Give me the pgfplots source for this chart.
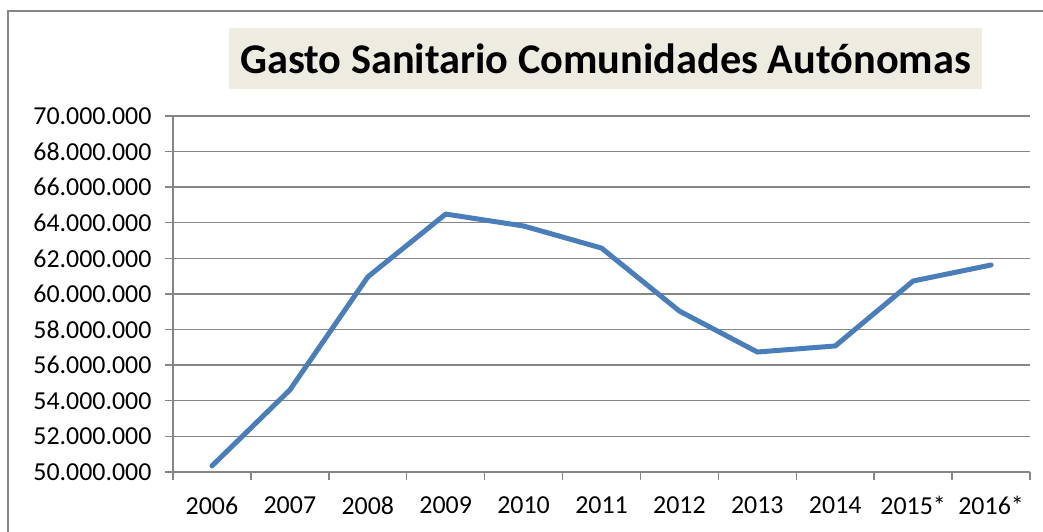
\documentclass[border=0pt]{standalone}
\usepackage{pgfplots}
\pgfplotsset{compat=1.18}
\usepackage{fontspec}
\setmainfont{Carlito}
\definecolor{axgray}{HTML}{868686}
\definecolor{linec}{HTML}{4A7EBB}
\definecolor{titlebg}{HTML}{EEECE1}
\begin{document}
\begin{tikzpicture}[x=1bp,y=1bp]
\useasboundingbox (0,0) rectangle (1043,532);
\draw[axgray, line width=1.5bp] (8,0) -- (8,521) -- (1043,521);
\node[fill=titlebg, minimum width=753bp, minimum height=61bp, inner sep=0pt,
      font=\fontsize{42.5}{48}\selectfont\bfseries] at (605.5,473.5) {Gasto Sanitario Comunidades Autónomas};
\begin{axis}[
  at={(173bp,60bp)}, anchor=south west,
  width=857bp, height=356bp, scale only axis,
  xmin=-0.5, xmax=10.5, ymin=50000000, ymax=70000000,
  axis lines*=left, axis line style={-, axgray, line width=1.4bp},
  xtick={0,...,10},
  xticklabels={2006,2007,2008,2009,2010,2011,2012,2013,2014,2015*,2016*},
  minor xtick={-0.5,0.5,...,10.5},
  major x tick style={draw=none},
  minor x tick style={axgray, line width=1.4bp},
  minor tick length=8bp,
  ytick={50000000,52000000,...,70000000},
  major tick length=8bp,
  tick align=outside,
  y tick style={axgray, line width=1.4bp},
  ymajorgrids, grid style={axgray, line width=1.4bp},
  scaled y ticks=false,
  y tick label style={/pgf/number format/fixed, /pgf/number format/precision=0, /pgf/number format/1000 sep={.}, /pgf/number format/assume math mode=true},
  ticklabel style={font=\fontsize{26}{30}\selectfont},
  xticklabel style={yshift=-13bp},
  yticklabel style={xshift=-10bp},
  clip=false,
]
\addplot[linec, line width=5bp, line join=round, line cap=round] coordinates {
(0,50340000) (1,54610000) (2,60960000) (3,64490000) (4,63820000) (5,62580000)
(6,59040000) (7,56740000) (8,57080000) (9,60730000) (10,61630000)
};
\end{axis}
\end{tikzpicture}
\end{document}
